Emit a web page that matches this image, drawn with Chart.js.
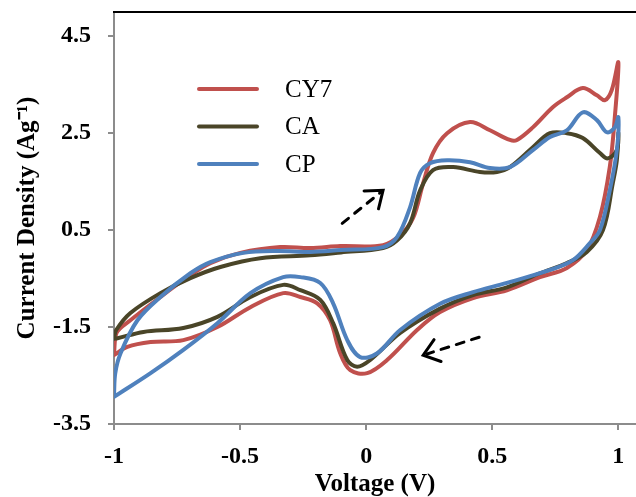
<!DOCTYPE html>
<html>
<head>
<meta charset="utf-8">
<script src="https://cdn.jsdelivr.net/npm/chart.js@4"></script>
<style>
  html, body { margin: 0; padding: 0; background: #fff; }
  #wrap { width: 636px; height: 497px; }
</style>
</head>
<body>
<div id="wrap"><canvas id="cvChart" width="636" height="497"></canvas></div>
<script>
// 전압 (V) / 전류 밀도 (A/g) - 순방향 후 역방향 스캔
const cy7V = [-1.0, -0.99, -0.935, -0.816, -0.697, -0.618, -0.499, -0.341, -0.222, -0.103,
  0.067, 0.135, 0.186, 0.226, 0.265, 0.321, 0.412, 0.491, 0.57, 0.598,
  0.661, 0.741, 0.796, 0.859, 0.915, 0.947, 0.974, 1.0,
  0.986, 0.966, 0.927, 0.875, 0.796, 0.689, 0.558, 0.424, 0.293, 0.202, 0.083, 0.004,
  -0.063, -0.103, -0.143, -0.194, -0.261, -0.329, -0.459, -0.59, -0.725, -0.855, -0.947, -1.0];
const cy7I = [-2.05, -1.62, -1.36, -0.88, -0.43, -0.18, 0.03, 0.15, 0.13, 0.17,
  0.19, 0.40, 0.75, 1.47, 2.09, 2.50, 2.73, 2.56, 2.36, 2.36,
  2.62, 3.04, 3.24, 3.43, 3.28, 3.18, 3.39, 3.96,
  2.83, 1.80, 0.77, 0.09, -0.28, -0.47, -0.74, -0.90, -1.19, -1.56, -2.18, -2.45,
  -2.39, -2.04, -1.36, -1.01, -0.88, -0.80, -1.09, -1.50, -1.77, -1.81, -1.91, -2.08];

const caV = [-1.0, -0.99, -0.935, -0.816, -0.697, -0.578, -0.42, -0.222, -0.1, 0.067,
  0.123, 0.174, 0.214, 0.265, 0.345, 0.451, 0.519, 0.57, 0.661, 0.729,
  0.796, 0.859, 0.927, 0.958, 0.994, 1.0,
  0.994, 0.978, 0.939, 0.875, 0.796, 0.689, 0.558, 0.424, 0.293, 0.135, 0.016, -0.036, -0.075,
  -0.131, -0.182, -0.261, -0.329, -0.459, -0.59, -0.725, -0.883, -0.986, -1.0];
const caI = [-1.72, -1.55, -1.21, -0.80, -0.49, -0.26, -0.08, -0.02, 0.04, 0.13,
  0.29, 0.64, 1.32, 1.74, 1.80, 1.70, 1.70, 1.80, 2.21, 2.50,
  2.50, 2.40, 2.09, 1.98, 2.15, 2.50,
  1.94, 1.47, 0.50, 0.05, -0.18, -0.39, -0.68, -0.84, -1.12, -1.62, -2.18, -2.32, -2.18,
  -1.42, -0.94, -0.74, -0.63, -0.88, -1.29, -1.52, -1.60, -1.73, -1.74];

const cpV = [-1.0, -0.995, -0.974, -0.907, -0.816, -0.697, -0.618, -0.487, -0.352, -0.222, -0.1,
  0.067, 0.123, 0.174, 0.214, 0.253, 0.321, 0.412, 0.491, 0.57, 0.661,
  0.729, 0.796, 0.859, 0.915, 0.954, 0.986, 1.0,
  0.994, 0.966, 0.927, 0.887, 0.82, 0.729, 0.558, 0.424, 0.293, 0.135, 0.044, -0.024,
  -0.075, -0.131, -0.182, -0.261, -0.329, -0.459, -0.59, -0.725, -0.855, -1.0];
const cpI = [-2.90, -2.45, -2.04, -1.36, -0.88, -0.39, -0.16, 0.03, 0.07, 0.05, 0.09,
  0.15, 0.36, 0.97, 1.68, 1.88, 1.94, 1.90, 1.78, 1.80, 2.15,
  2.42, 2.56, 2.93, 2.77, 2.52, 2.62, 2.83,
  2.15, 1.32, 0.50, 0.23, -0.12, -0.32, -0.59, -0.78, -1.02, -1.56, -2.04, -2.12,
  -1.77, -1.01, -0.59, -0.47, -0.47, -0.80, -1.42, -1.97, -2.45, -2.94];

const seriesNames = ['CY7', 'CA', 'CP'];
const xTicks = [-1, -0.5, 0, 0.5, 1];
const yTicks = [-3.5, -1.5, 0.5, 2.5, 4.5];

// 스캔 방향 화살표 (데이터 좌표: 꼬리 -> 머리)
const arrowFwd = [[-0.095, 0.64], [0.067, 1.32]];
const arrowRev = [[0.448, -1.71], [0.226, -2.08]];

const colors = ['#C0504D', '#4A4528', '#4F81BD'];
const serif = '"Liberation Serif", "Times New Roman", serif';

function toPoints(xs, ys) {
    return xs.map((x, i) => ({ x: x, y: ys[i] }));
}

// 그림 위에 범례, 화살표, 위쪽 테두리 그리기
const overlay = {
    id: 'overlay',
    afterDatasetsDraw(chart) {
        const ctx = chart.ctx;
        const area = chart.chartArea;
        const sx = chart.scales.x, sy = chart.scales.y;
        ctx.save();

        // 위쪽 테두리
        ctx.strokeStyle = '#000';
        ctx.lineWidth = 2;
        ctx.beginPath();
        ctx.moveTo(area.left - 1, area.top);
        ctx.lineTo(chart.width, area.top);
        ctx.stroke();

        // 범례
        ctx.font = '25px ' + serif;
        ctx.textBaseline = 'middle';
        ctx.fillStyle = '#000';
        seriesNames.forEach((name, i) => {
            const y = 89 + i * 37.5;
            ctx.strokeStyle = colors[i];
            ctx.lineWidth = 4;
            ctx.lineCap = 'round';
            ctx.beginPath();
            ctx.moveTo(199, y);
            ctx.lineTo(257, y);
            ctx.stroke();
            ctx.fillText(name, 285, y + 1);
        });

        // 화살표
        function arrow(a, headOpen) {
            const x0 = sx.getPixelForValue(a[0][0]), y0 = sy.getPixelForValue(a[0][1]);
            const x1 = sx.getPixelForValue(a[1][0]), y1 = sy.getPixelForValue(a[1][1]);
            const ang = Math.atan2(y1 - y0, x1 - x0);
            ctx.strokeStyle = '#000';
            ctx.lineWidth = 3;
            ctx.lineCap = 'round';
            ctx.setLineDash([8, 8]);
            ctx.beginPath();
            ctx.moveTo(x0, y0);
            ctx.lineTo(x1 - 4 * Math.cos(ang), y1 - 4 * Math.sin(ang));
            ctx.stroke();
            ctx.setLineDash([]);
            const len = 19;
            ctx.beginPath();
            ctx.moveTo(x1 + len * Math.cos(ang + Math.PI - headOpen), y1 + len * Math.sin(ang + Math.PI - headOpen));
            ctx.lineTo(x1, y1);
            ctx.lineTo(x1 + len * Math.cos(ang + Math.PI + headOpen), y1 + len * Math.sin(ang + Math.PI + headOpen));
            ctx.stroke();
        }
        arrow(arrowFwd, 0.65);
        arrow(arrowRev, 0.65);
        ctx.restore();
    }
};

const ctx = document.getElementById('cvChart').getContext('2d');
const chart = new Chart(ctx, {
    type: 'scatter',
    data: {
        datasets: [
            { label: seriesNames[0], data: toPoints(cy7V, cy7I), order: 2 },
            { label: seriesNames[1], data: toPoints(caV, caI), order: 1 },
            { label: seriesNames[2], data: toPoints(cpV, cpI), order: 0 }
        ].map((d, i) => Object.assign(d, {
            showLine: true,
            borderColor: colors[i],
            backgroundColor: colors[i],
            borderWidth: 4,
            pointRadius: 0,
            tension: 0.35,
            borderCapStyle: 'round',
            borderJoinStyle: 'round'
        }))
    },
    options: {
        responsive: false,
        animation: false,
        layout: { padding: { top: 12, left: 0, right: 0, bottom: 0 } },
        plugins: {
            legend: { display: false },
            tooltip: { enabled: false }
        },
        scales: {
            x: {
                type: 'linear',
                min: -1,
                max: 1.07,
                afterBuildTicks: (s) => { s.ticks = xTicks.map(v => ({ value: v })); },
                afterFit: (s) => { s.height = 73; s.paddingLeft = 0; s.paddingRight = 0; },
                grid: { display: true, drawOnChartArea: false, drawTicks: true, tickLength: 6, color: '#8c8c8c', lineWidth: 2 },
                border: { display: true, color: '#8c8c8c', width: 2 },
                ticks: {
                    padding: 12,
                    color: '#000',
                    font: { family: serif, size: 24, weight: 'bold' },
                    callback: (v) => String(v)
                },
                title: {
                    display: true,
                    text: 'Voltage (V)',
                    color: '#000',
                    font: { family: serif, size: 25, weight: 'bold', lineHeight: 1 },
                    padding: { top: 0, bottom: 0 }
                }
            },
            y: {
                type: 'linear',
                min: -3.5,
                max: 5.0,
                afterBuildTicks: (s) => { s.ticks = yTicks.map(v => ({ value: v })); },
                afterFit: (s) => { s.width = 114; s.paddingTop = 0; s.paddingBottom = 0; },
                grid: { display: true, drawOnChartArea: false, drawTicks: true, tickLength: 6, color: '#8c8c8c', lineWidth: 2 },
                border: { display: true, color: '#8c8c8c', width: 2 },
                ticks: {
                    padding: 17,
                    color: '#000',
                    font: { family: serif, size: 24, weight: 'bold' },
                    callback: (v) => String(v)
                },
                title: {
                    display: true,
                    text: 'Current Density (Ag\u207B\u00B9)',
                    color: '#000',
                    font: { family: serif, size: 25, weight: 'bold', lineHeight: 1 },
                    padding: { top: 15, bottom: 0 }
                }
            }
        }
    },
    plugins: [overlay]
});
</script>
</body>
</html>
